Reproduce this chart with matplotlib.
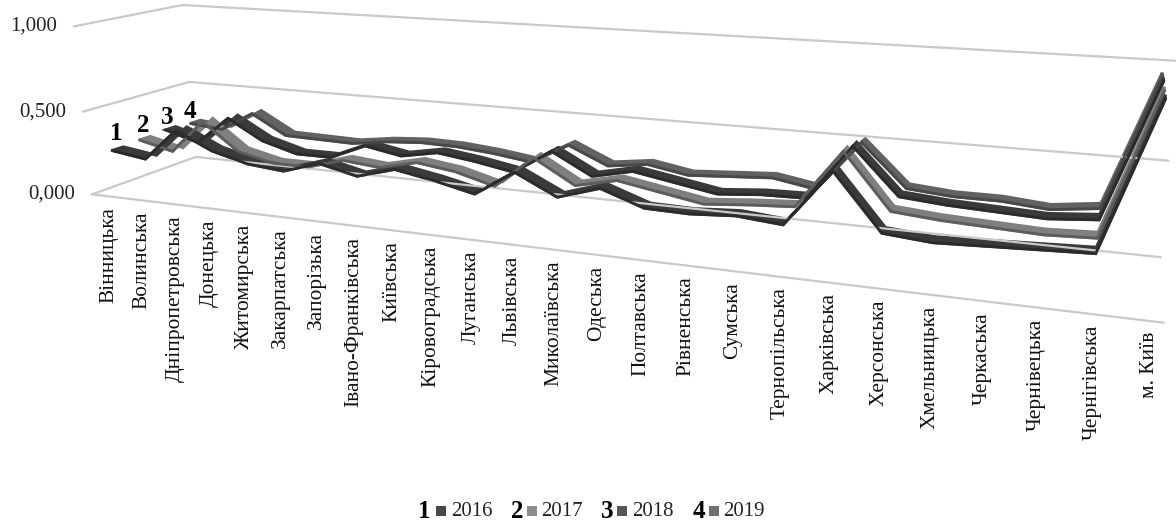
import numpy as np
import matplotlib
matplotlib.use("Agg")
import matplotlib.pyplot as plt

plt.rcParams['font.family'] = ['Liberation Serif', 'DejaVu Serif']

regions = ["Вінницька", "Волинська", "Дніпропетровська", "Донецька", "Житомирська",
           "Закарпатська", "Запорізька", "Івано-Франківська", "Київська", "Кіровоградська",
           "Луганська", "Львівська", "Миколаївська", "Одеська", "Полтавська", "Рівненська",
           "Сумська", "Тернопільська", "Харківська", "Херсонська", "Хмельницька", "Черкаська",
           "Чернівецька", "Чернігівська", "м. Київ"]
years = ["2016", "2017", "2018", "2019"]
y_ticks = [0.0, 0.5, 1.0]
y_tick_labels = ["0,000", "0,500", "1,000"]

v2016 = [.26, .23, .42, .32, .265, .245, .31, .26, .32, .28, .23, .37, .26,
         .33, .25, .245, .26, .24, .53, .25, .23, .24, .25, .26, .98]
v2017 = [.27, .22, .42, .26, .21, .21, .27, .25, .30, .27, .21, .39, .26,
         .31, .27, .23, .25, .265, .57, .29, .27, .26, .25, .26, .97]
v2018 = [.28, .22, .39, .27, .21, .21, .30, .26, .30, .27, .23, .37, .25,
         .30, .26, .22, .24, .245, .54, .30, .28, .27, .26, .28, .97]
v2019 = [.27, .25, .37, .25, .245, .24, .27, .285, .28, .26, .23, .35, .25,
         .28, .24, .255, .27, .23, .505, .28, .26, .26, .24, .27, .95]
series = [v2016, v2017, v2018, v2019]

# Excel style 3D box: fit a perspective camera to where the box corners sit
box_pts = [(0, 0, 0), (1, 0, 0), (0, 1, 0), (1, 1, 0), (0, 1, 1), (1, 1, 1),
           (0, 1, .5), (0, 0, .5), (0, 0, 1), (.5, 0, 0), (.5, 1, 0)]
px_pts = [(93, 195), (1178, 323), (195, 157), (1174, 258), (183, 4), (1189, 63),
          (190, 82), (83, 112), (73, 26), (553, 250), (618, 201)]
rows = []
for (a, b, c), (px, py) in zip(box_pts, px_pts):
    rows.append([a, b, c, 1, 0, 0, 0, 0, -px*a, -px*b, -px*c, -px])
    rows.append([0, 0, 0, 0, a, b, c, 1, -py*a, -py*b, -py*c, -py])
cam = np.linalg.svd(np.array(rows, dtype=float))[2][-1].reshape(3, 4)


def project(u, d, v):
    u, d, v = np.broadcast_arrays(u, d, v)
    p = cam @ np.vstack([u, d, v, np.ones(u.shape)])
    return p[0] / p[2], p[1] / p[2]


fig = plt.figure(figsize=(11.76, 5.22), dpi=100)
ax = fig.add_axes([0, 0, 1, 1])
ax.set_xlim(0, 1176)
ax.set_ylim(522, 0)
ax.axis("off")

grid = "#c9c9c9"
grid_end = 0.99
for tick, lab in zip(y_ticks, y_tick_labels):
    xs, ys = project([0, 0, grid_end], [0, 1, 1], tick)
    ax.plot(xs, ys, color=grid, lw=1.6, solid_joinstyle="miter")
    ax.text(xs[0] - 17, ys[0], lab, ha="right", va="center", fontsize=15, color="#222222")
xs, ys = project([0, grid_end], 0, 0)
ax.plot(xs, ys, color=grid, lw=1.6)

u = (np.arange(len(regions)) + 0.5) / len(regions)
for ui, name in zip(u, regions):
    lx, ly = project(ui, 0, 0)
    ax.text(lx[0] + 1, ly[0] + 11, name, rotation=90, ha="center", va="top",
            fontsize=15.4, color="#111111")

depths = [.125, .375, .625, .875]
faces = ["#3a3a3a", "#7f7f7f", "#3a3a3a", "#626262"]
fronts = ["#2b2b2b", "#5c5c5c", "#2b2b2b", "#484848"]
half = 0.05
# back series first so the front one ends on top
for k in [3, 2, 1, 0]:
    vals = np.array(series[k])
    x_back, y_back = project(u, depths[k] + half, vals)
    x_front, y_front = project(u, depths[k] - half, vals)
    ax.fill(np.r_[x_back, x_front[::-1]], np.r_[y_back, y_front[::-1]], color=faces[k],
            lw=2.2, joinstyle="miter")
    ax.plot(x_front, y_front, color=fronts[k], lw=2.0, solid_joinstyle="miter")

# hand written series numbers
for n, (tx, ty) in enumerate([(116, 133), (143, 125), (167, 117), (190, 111)]):
    ax.text(tx, ty, str(n + 1), ha="center", va="center", fontsize=18, fontweight="bold", color="black")

# legend
num_x = [424, 517, 607, 699]
sq_x = [441, 532, 622, 714]
txt_x = [451, 541, 632, 723]
legend_cols = ["#484848", "#8c8c8c", "#555555", "#707070"]
for k, year in enumerate(years):
    ax.text(num_x[k], 512, str(k + 1), ha="center", va="center", fontsize=18, fontweight="bold", color="black")
    ax.plot([sq_x[k]], [511], marker="s", ms=7.5, color=legend_cols[k], mew=0)
    ax.text(txt_x[k], 512, year, ha="left", va="center", fontsize=15, color="#222222")

fig.savefig("out.png", dpi=100)
